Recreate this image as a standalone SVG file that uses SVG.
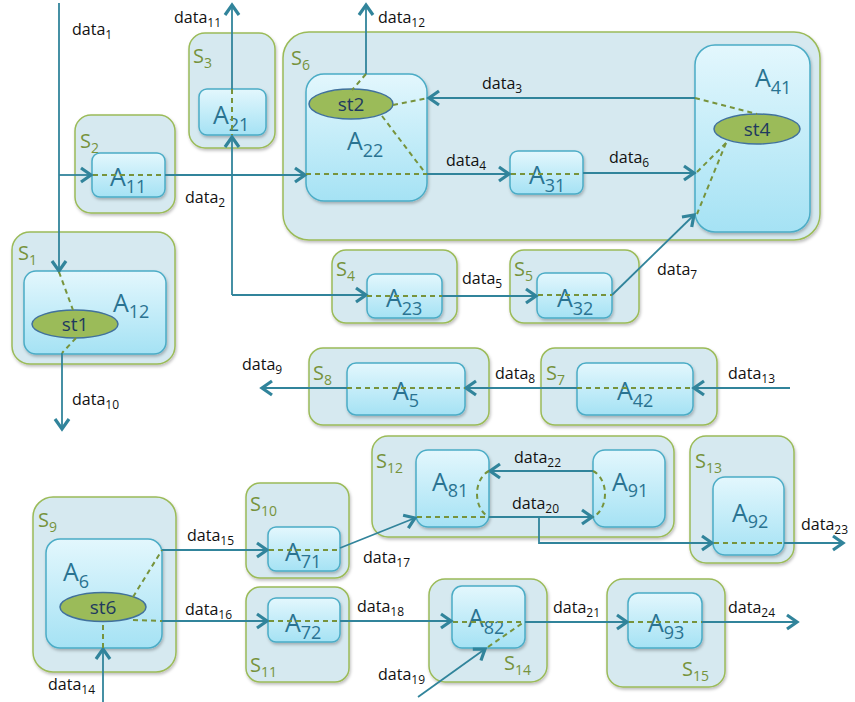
<svg xmlns="http://www.w3.org/2000/svg" width="855" height="702" viewBox="0 0 855 702">
<defs>
<linearGradient id="ga" x1="0" y1="0" x2="0" y2="1">
<stop offset="0" stop-color="#e3f7fd"/>
<stop offset="1" stop-color="#a5e2f4"/>
</linearGradient>
<filter id="sh" x="-10%" y="-10%" width="120%" height="125%">
<feDropShadow dx="1" dy="2" stdDeviation="1.5" flood-color="#000" flood-opacity="0.25"/>
</filter>
<marker id="ar" markerUnits="userSpaceOnUse" markerWidth="18" markerHeight="18" refX="13" refY="9" orient="auto">
<path d="M3,2 L13,9 L3,16" fill="none" stroke="#31849b" stroke-width="3.2" stroke-linejoin="miter"/>
</marker>
</defs>
<style>
.s{fill:#d6e9f0;stroke:#9bbb59;stroke-width:1.5;filter:url(#sh)}
.a{fill:url(#ga);stroke:#4bacc6;stroke-width:1.5;filter:url(#sh)}
.e{fill:#9bbb59;stroke:#41719c;stroke-width:1.5}
.sl{font-family:"Open Sans","Liberation Sans",sans-serif;font-size:20px;fill:#77933c}
.sl tspan{font-size:14px}
.al{font-family:"Open Sans","Liberation Sans",sans-serif;font-size:25px;fill:#2a7391}
.al tspan{font-size:18px}
.el{font-family:"Open Sans","Liberation Sans",sans-serif;font-size:19px;fill:#1f3a5f;text-anchor:middle}
.dl{font-family:"Open Sans","Liberation Sans",sans-serif;font-size:16px;fill:#111}
.dl tspan{font-size:12px}
.c{fill:none;stroke:#31849b;stroke-width:1.8}
.d{fill:none;stroke:#77933c;stroke-width:2;stroke-dasharray:5 4}
</style>

<g id="S1">
<rect class="s" x="12" y="232" width="163" height="132" rx="18"/>
<text class="sl" x="18" y="260">S<tspan dy="5">1</tspan></text>
<g id="A12">
<rect class="a" x="24" y="271" width="142" height="83" rx="12"/>
<text class="al" x="113" y="312">A<tspan dy="6">12</tspan></text>
<ellipse class="e" cx="75" cy="324" rx="43" ry="14"/>
<text class="el" x="75" y="331">st1</text>
</g>
</g>

<g id="S2">
<rect class="s" x="75" y="115" width="100" height="98" rx="16"/>
<text class="sl" x="80" y="148">S<tspan dy="5">2</tspan></text>
<g id="A11">
<rect class="a" x="92" y="153" width="73" height="44" rx="8"/>
<text class="al" x="110" y="186">A<tspan dy="7">11</tspan></text>
</g>
</g>

<g id="S3">
<rect class="s" x="189" y="33" width="86" height="115" rx="16"/>
<text class="sl" x="193" y="63">S<tspan dy="5">3</tspan></text>
<g id="A21">
<rect class="a" x="199" y="89" width="67" height="46" rx="8"/>
<text class="al" x="213" y="124">A<tspan dy="7">21</tspan></text>
</g>
</g>

<g id="S6">
<rect class="s" x="283" y="32" width="537" height="208" rx="26"/>
<text class="sl" x="291" y="65">S<tspan dy="5">6</tspan></text>
<g id="A22">
<rect class="a" x="306" y="74" width="121" height="127" rx="18"/>
<text class="al" x="347" y="150">A<tspan dy="7">22</tspan></text>
<ellipse class="e" cx="351" cy="104" rx="42" ry="15"/>
<text class="el" x="351" y="111">st2</text>
</g>
<g id="A31">
<rect class="a" x="510" y="151" width="73" height="43" rx="8"/>
<text class="al" x="529" y="184">A<tspan dy="8">31</tspan></text>
</g>
<g id="A41">
<rect class="a" x="695" y="45" width="115" height="187" rx="20"/>
<text class="al" x="755" y="87">A<tspan dy="7">41</tspan></text>
<ellipse class="e" cx="757" cy="129" rx="43" ry="15"/>
<text class="el" x="757" y="136">st4</text>
</g>
</g>

<g id="S4">
<rect class="s" x="332" y="250" width="125" height="73" rx="14"/>
<text class="sl" x="336" y="276">S<tspan dy="5">4</tspan></text>
<g id="A23">
<rect class="a" x="367" y="274" width="75" height="44" rx="8"/>
<text class="al" x="386" y="307">A<tspan dy="8">23</tspan></text>
</g>
</g>

<g id="S5">
<rect class="s" x="510" y="250" width="129" height="73" rx="14"/>
<text class="sl" x="514" y="276">S<tspan dy="5">5</tspan></text>
<g id="A32">
<rect class="a" x="537" y="273" width="75" height="45" rx="8"/>
<text class="al" x="557" y="307">A<tspan dy="8">32</tspan></text>
</g>
</g>

<g id="S8">
<rect class="s" x="309" y="348" width="180" height="77" rx="14"/>
<text class="sl" x="313" y="380">S<tspan dy="5">8</tspan></text>
<g id="A5">
<rect class="a" x="347" y="363" width="118" height="52" rx="9"/>
<text class="al" x="393" y="400">A<tspan dy="7">5</tspan></text>
</g>
</g>

<g id="S7">
<rect class="s" x="541" y="348" width="176" height="77" rx="14"/>
<text class="sl" x="546" y="380">S<tspan dy="5">7</tspan></text>
<g id="A42">
<rect class="a" x="577" y="363" width="116" height="52" rx="9"/>
<text class="al" x="617" y="400">A<tspan dy="7">42</tspan></text>
</g>
</g>

<g id="S12">
<rect class="s" x="372" y="436" width="302" height="101" rx="16"/>
<text class="sl" x="376" y="468">S<tspan dy="5">12</tspan></text>
<g id="A81">
<rect class="a" x="416" y="450" width="73" height="77" rx="12"/>
<text class="al" x="432" y="491">A<tspan dy="6">81</tspan></text>
</g>
<g id="A91">
<rect class="a" x="593" y="450" width="72" height="77" rx="12"/>
<text class="al" x="612" y="491">A<tspan dy="6">91</tspan></text>
</g>
</g>

<g id="S13">
<rect class="s" x="690" y="436" width="104" height="127" rx="16"/>
<text class="sl" x="695" y="468">S<tspan dy="5">13</tspan></text>
<g id="A92">
<rect class="a" x="713" y="477" width="71" height="78" rx="12"/>
<text class="al" x="732" y="522">A<tspan dy="6">92</tspan></text>
</g>
</g>

<g id="S9">
<rect class="s" x="33" y="497" width="143" height="175" rx="20"/>
<text class="sl" x="38" y="527">S<tspan dy="5">9</tspan></text>
<g id="A6">
<rect class="a" x="46" y="539" width="116" height="109" rx="14"/>
<text class="al" x="63" y="581">A<tspan dy="7">6</tspan></text>
<ellipse class="e" cx="103" cy="607" rx="43" ry="14.5"/>
<text class="el" x="103" y="614">st6</text>
</g>
</g>

<g id="S10">
<rect class="s" x="246" y="483" width="103" height="95" rx="14"/>
<text class="sl" x="250" y="511">S<tspan dy="5">10</tspan></text>
<g id="A71">
<rect class="a" x="268" y="527" width="72" height="44" rx="8"/>
<text class="al" x="285" y="561">A<tspan dy="7">71</tspan></text>
</g>
</g>

<g id="S11">
<rect class="s" x="246" y="587" width="103" height="95" rx="14"/>
<text class="sl" x="250" y="672">S<tspan dy="5">11</tspan></text>
<g id="A72">
<rect class="a" x="268" y="598" width="72" height="44" rx="8"/>
<text class="al" x="285" y="632">A<tspan dy="7">72</tspan></text>
</g>
</g>

<g id="S14">
<rect class="s" x="429" y="579" width="118" height="103" rx="16"/>
<text class="sl" x="504" y="670">S<tspan dy="5">14</tspan></text>
<g id="A82">
<rect class="a" x="452" y="586" width="73" height="62" rx="10"/>
<text class="al" x="468" y="627">A<tspan dy="7">82</tspan></text>
</g>
</g>

<g id="S15">
<rect class="s" x="607" y="579" width="118" height="108" rx="16"/>
<text class="sl" x="682" y="676">S<tspan dy="5">15</tspan></text>
<g id="A93">
<rect class="a" x="628" y="593" width="74" height="55" rx="10"/>
<text class="al" x="648" y="632">A<tspan dy="7">93</tspan></text>
</g>
</g>

<g id="connectors">
<path class="c" d="M59,3 L59,271" marker-end="url(#ar)"/>
<path class="c" d="M59,175 L91,175" marker-end="url(#ar)"/>
<path class="c" d="M165,175 L305,175" marker-end="url(#ar)"/>
<path class="c" d="M62,353 L62,429" marker-end="url(#ar)"/>
<path class="c" d="M232,89 L232,5" marker-end="url(#ar)"/>
<path class="c" d="M232,295 L232,137" marker-end="url(#ar)"/>
<path class="c" d="M232,295 L366,295" marker-end="url(#ar)"/>
<path class="c" d="M442,296 L536,296" marker-end="url(#ar)"/>
<path class="c" d="M612,295 L694,215" marker-end="url(#ar)"/>
<path class="c" d="M366,74 L366,5" marker-end="url(#ar)"/>
<path class="c" d="M695,98 L429,98" marker-end="url(#ar)"/>
<path class="c" d="M427,174 L509,174" marker-end="url(#ar)"/>
<path class="c" d="M583,173 L694,173" marker-end="url(#ar)"/>
<path class="c" d="M577,388 L466,388" marker-end="url(#ar)"/>
<path class="c" d="M790,388 L694,388" marker-end="url(#ar)"/>
<path class="c" d="M347,388 L262,388" marker-end="url(#ar)"/>
<path class="c" d="M593,471 L490,471" marker-end="url(#ar)"/>
<path class="c" d="M489,517 L592,517" marker-end="url(#ar)"/>
<path class="c" d="M539,517 L539,543 L712,543" marker-end="url(#ar)"/>
<path class="c" d="M784,543 L843,543" marker-end="url(#ar)"/>
<path class="c" d="M340,548 L415,518" marker-end="url(#ar)"/>
<path class="c" d="M162,550 L267,550" marker-end="url(#ar)"/>
<path class="c" d="M162,621 L267,621" marker-end="url(#ar)"/>
<path class="c" d="M340,621 L451,621" marker-end="url(#ar)"/>
<path class="c" d="M525,622 L627,622" marker-end="url(#ar)"/>
<path class="c" d="M702,622 L797,622" marker-end="url(#ar)"/>
<path class="c" d="M103,702 L103,649" marker-end="url(#ar)"/>
<path class="c" d="M418,697 L485,649" marker-end="url(#ar)"/>
<path class="d" d="M93,175 L165,175"/>
<path class="d" d="M59,272 L73,310"/>
<path class="d" d="M76,338 L62,353"/>
<path class="d" d="M232,89 L232,135"/>
<path class="d" d="M367,296 L442,296"/>
<path class="d" d="M538,295 L612,295"/>
<path class="d" d="M366,74 L352,90"/>
<path class="d" d="M393,105 L428,98"/>
<path class="d" d="M382,116 L426,174"/>
<path class="d" d="M306,174 L427,174"/>
<path class="d" d="M511,174 L583,174"/>
<path class="d" d="M695,98 L757,114"/>
<path class="d" d="M726,143 L696,173"/>
<path class="d" d="M726,143 L697,214"/>
<path class="d" d="M347,388 L465,388"/>
<path class="d" d="M577,388 L693,388"/>
<path class="d" d="M489,471 C473,479 473,509 489,517"/>
<path class="d" d="M593,471 C609,479 609,509 593,517"/>
<path class="d" d="M417,517 L489,517"/>
<path class="d" d="M714,543 L784,543"/>
<path class="d" d="M133,597 L162,550"/>
<path class="d" d="M133,620 L162,621"/>
<path class="d" d="M103,648 L103,622"/>
<path class="d" d="M269,550 L340,550"/>
<path class="d" d="M269,621 L340,621"/>
<path class="d" d="M453,622 L525,622"/>
<path class="d" d="M488,647 L524,622"/>
<path class="d" d="M629,622 L702,622"/>
<text class="dl" x="72" y="35">data<tspan dy="4">1</tspan></text>
<text class="dl" x="174" y="23">data<tspan dy="4">11</tspan></text>
<text class="dl" x="378" y="23">data<tspan dy="4">12</tspan></text>
<text class="dl" x="185" y="203">data<tspan dy="4">2</tspan></text>
<text class="dl" x="482" y="89">data<tspan dy="4">3</tspan></text>
<text class="dl" x="446" y="166">data<tspan dy="4">4</tspan></text>
<text class="dl" x="609" y="163">data<tspan dy="4">6</tspan></text>
<text class="dl" x="462" y="284">data<tspan dy="4">5</tspan></text>
<text class="dl" x="657" y="275">data<tspan dy="4">7</tspan></text>
<text class="dl" x="495" y="379">data<tspan dy="4">8</tspan></text>
<text class="dl" x="728" y="379">data<tspan dy="4">13</tspan></text>
<text class="dl" x="242" y="370">data<tspan dy="4">9</tspan></text>
<text class="dl" x="72" y="405">data<tspan dy="4">10</tspan></text>
<text class="dl" x="514" y="463">data<tspan dy="4">22</tspan></text>
<text class="dl" x="512" y="509">data<tspan dy="4">20</tspan></text>
<text class="dl" x="363" y="563">data<tspan dy="4">17</tspan></text>
<text class="dl" x="801" y="530">data<tspan dy="4">23</tspan></text>
<text class="dl" x="187" y="541">data<tspan dy="4">15</tspan></text>
<text class="dl" x="185" y="615">data<tspan dy="4">16</tspan></text>
<text class="dl" x="48" y="690">data<tspan dy="4">14</tspan></text>
<text class="dl" x="357" y="612">data<tspan dy="4">18</tspan></text>
<text class="dl" x="378" y="680">data<tspan dy="4">19</tspan></text>
<text class="dl" x="553" y="613">data<tspan dy="4">21</tspan></text>
<text class="dl" x="728" y="613">data<tspan dy="4">24</tspan></text>
</g>
</svg>
